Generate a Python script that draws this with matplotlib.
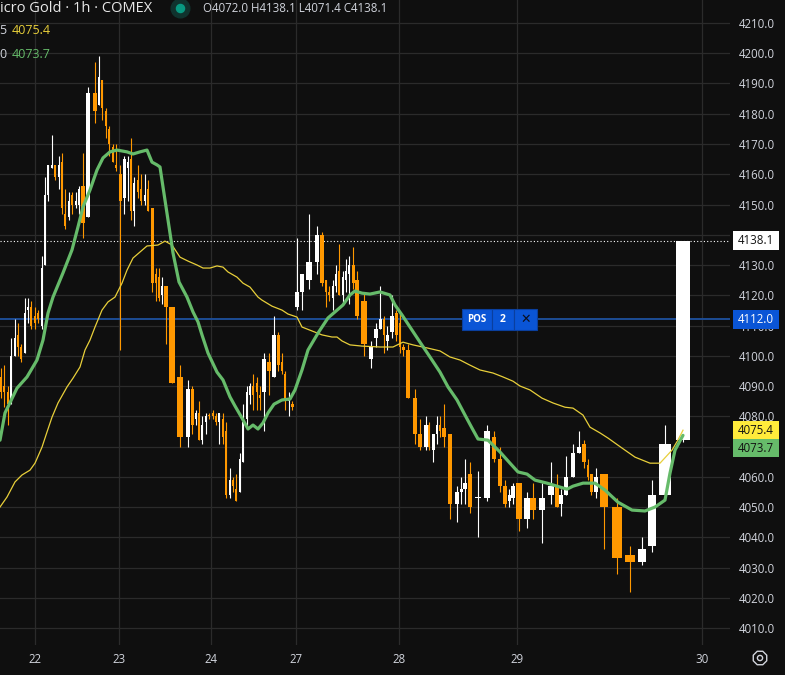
import numpy as np
import matplotlib.pyplot as plt
from matplotlib.patches import Rectangle

plt.rcParams['font.family'] = ['Open Sans', 'DejaVu Sans']

# hourly bars, position along the (compressed) time axis
bar_t = [1, 4, 8, 11, 15, 18, 21, 25, 28, 31,
         35, 38, 42, 45, 48, 52, 55, 59, 62, 65,
         69, 72, 76, 79, 83, 88, 95, 99, 102, 106,
         109, 113, 116, 120, 124, 128, 131, 134, 138, 141,
         145, 148, 152, 156, 159, 162, 166, 172, 180, 188,
         192, 196, 199, 202, 206, 209, 213, 216, 219, 223,
         226, 230, 233, 236, 240, 243, 247, 250, 253, 257,
         260, 264, 269, 274, 278, 282, 285, 289, 292, 297,
         302, 309, 317, 322, 326, 329, 333, 336, 339, 343,
         346, 349, 353, 357, 364, 371, 376, 380, 384, 387,
         392, 396, 400, 403, 408, 415, 420, 426, 429, 433,
         437, 440, 444, 450, 457, 461, 465, 470, 478, 487,
         494, 500, 505, 509, 513, 519, 527, 533, 542, 551,
         557, 561, 566, 573, 579, 584, 588, 591, 596, 604,
         617, 630, 642, 652, 665, 683]

bar_open = [4093, 4090, 4088, 4085, 4100, 4107, 4103, 4101, 4115, 4116,
            4113, 4114, 4110, 4130, 4153, 4162, 4163, 4159, 4164, 4147,
            4146, 4153, 4150, 4150, 4156, 4146, 4187, 4183, 4191, 4181,
            4175, 4169, 4163, 4160, 4152, 4162, 4165, 4148, 4158, 4155,
            4151, 4155, 4149, 4127, 4126, 4120, 4123, 4116, 4093, 4073,
            4089, 4079, 4081, 4072, 4078, 4080.5, 4081, 4080, 4078, 4079,
            4075, 4054, 4059, 4056, 4055, 4065, 4079, 4087, 4090, 4091,
            4087, 4088, 4098, 4093, 4107, 4098, 4094, 4085, 4084, 4116,
            4121, 4125, 4131, 4140, 4125, 4121, 4119, 4123, 4128, 4120,
            4125, 4127, 4130, 4125, 4118, 4099, 4106, 4109, 4112, 4105,
            4108, 4114, 4111, 4103, 4102, 4086, 4074, 4070, 4077, 4069,
            4074, 4077, 4076, 4074, 4051, 4055, 4056, 4061, 4053, 4053,
            4073, 4066, 4057, 4052, 4053, 4058, 4046, 4053, 4049, 4054,
            4057, 4051, 4054, 4060, 4068, 4071, 4064, 4061, 4055, 4061,
            4050, 4034, 4032, 4037, 4054, 4072.0]

bar_high = [4096, 4097, 4090, 4106, 4112, 4111, 4104, 4119, 4119, 4118,
            4116, 4115, 4133, 4159, 4163, 4173, 4163, 4166, 4167, 4155,
            4154, 4154, 4154, 4156, 4167, 4189, 4197, 4199, 4191, 4182,
            4176, 4170, 4170, 4163, 4166, 4166, 4172, 4159, 4163, 4160,
            4160, 4158, 4149, 4129, 4129, 4126, 4123, 4116, 4097, 4092,
            4090, 4082, 4085, 4080, 4081, 4081, 4082, 4081, 4081, 4081,
            4078, 4063, 4060, 4061, 4068, 4084, 4090, 4091, 4094, 4093,
            4090, 4101, 4101, 4113, 4108, 4101, 4095, 4088, 4085, 4139,
            4127, 4147, 4143, 4141, 4125, 4123, 4125, 4130, 4137, 4128,
            4132, 4133, 4136, 4128, 4121, 4105, 4111, 4123, 4113, 4110,
            4120, 4115, 4114, 4104, 4104, 4089, 4079, 4080, 4078, 4074,
            4080, 4080, 4084, 4074, 4057, 4060, 4066, 4065, 4062, 4077,
            4075, 4070, 4059, 4056, 4058, 4058, 4055, 4058, 4058, 4065,
            4061, 4056, 4067, 4071, 4075, 4072, 4066, 4061, 4063, 4061,
            4053, 4037, 4040, 4059, 4077, 4138.1]

bar_low = [4086, 4083, 4077, 4084, 4100, 4100, 4098, 4101, 4111, 4109,
           4109, 4111, 4109, 4130, 4151, 4162, 4158, 4155, 4147, 4142,
           4145, 4147, 4149, 4147, 4139, 4146, 4177, 4183, 4178, 4172,
           4166, 4164, 4161, 4102, 4147, 4151, 4145, 4143, 4152, 4150,
           4150, 4148, 4121, 4118, 4118, 4117, 4104, 4091, 4070, 4070,
           4074, 4077, 4072, 4071, 4074, 4079, 4079, 4077, 4071, 4071,
           4053, 4053, 4055, 4052, 4055, 4065, 4076, 4084, 4082, 4082,
           4082, 4075, 4087, 4093, 4095, 4094, 4082, 4080, 4082, 4115,
           4115, 4122, 4127, 4123, 4116, 4118, 4115, 4121, 4120, 4117,
           4121, 4117, 4122, 4112, 4100, 4096, 4103, 4109, 4101, 4102,
           4106, 4105, 4101, 4100, 4086, 4071, 4069, 4069, 4069, 4065,
           4071, 4073, 4070, 4046, 4045, 4051, 4051, 4048, 4040, 4052,
           4065, 4055, 4050, 4050, 4051, 4042, 4043, 4046, 4038, 4051,
           4050, 4047, 4054, 4060, 4068, 4063, 4059, 4054, 4053, 4036,
           4028, 4022, 4031, 4035, 4054, 4071.4]

bar_close = [4088, 4088, 4084, 4100, 4106, 4103, 4099, 4114, 4116, 4110,
             4111, 4112, 4129, 4153, 4163, 4163, 4159, 4163, 4149, 4143,
             4151, 4150, 4151, 4155, 4144, 4187, 4181, 4192, 4182, 4176,
             4170, 4164, 4162, 4151, 4165, 4164, 4148, 4157, 4154, 4151,
             4153, 4148, 4124, 4124, 4119, 4123, 4116, 4091, 4073, 4089,
             4077, 4081, 4072, 4077, 4080, 4080, 4080, 4078, 4081, 4073,
             4054, 4059, 4057, 4052, 4066, 4078, 4088, 4090, 4087, 4088,
             4086, 4099, 4095, 4107, 4097, 4095, 4085, 4085.5, 4083, 4121,
             4127, 4131, 4140, 4124, 4121, 4120, 4123, 4127, 4120, 4126,
             4128, 4130, 4124, 4113, 4104, 4103, 4109, 4112, 4107, 4107,
             4113, 4107, 4103, 4102, 4086, 4074, 4070, 4077, 4070, 4074,
             4077, 4075, 4073, 4051, 4055, 4056, 4058, 4050, 4053.3, 4075,
             4066, 4057, 4051, 4054, 4057, 4046, 4053, 4049, 4053, 4057,
             4050, 4054, 4060, 4068, 4070, 4065, 4060, 4055, 4060, 4050,
             4033, 4032, 4036, 4054, 4071, 4138.1]

# fast moving average (green)
ema_fast_t = [0, 5, 17, 27, 37, 43, 48, 53, 63, 72,
              78, 83, 90, 97, 103, 110, 117, 127, 133, 140,
              147, 152, 157, 160, 163, 168, 173, 179, 187, 193,
              198, 202, 208, 217, 223, 230, 235, 242, 248, 253,
              258, 263, 268, 274, 282, 290, 295, 302, 308, 318,
              328, 335, 343, 350, 355, 362, 370, 380, 390, 395,
              402, 410, 420, 430, 440, 448, 457, 465, 472, 478,
              488, 500, 510, 518, 527, 535, 547, 560, 567, 573,
              583, 595, 605, 618, 632, 645, 655, 665, 670, 675, 683]
ema_fast = [4072.1, 4081.1, 4089.3, 4093.0, 4098.6, 4105.2, 4114.1, 4119.4, 4127.4, 4135.0,
            4142.6, 4149.2, 4154.8, 4161.4, 4165.4, 4167.4, 4168.0, 4167.4, 4166.7, 4167.4,
            4168.0, 4164.0, 4163.1, 4162.4, 4155.8, 4144.9, 4134.0, 4124.4, 4119.4, 4114.5,
            4111.2, 4106.9, 4100.9, 4094.6, 4092.0, 4086.4, 4083.4, 4079.4, 4075.8, 4077.1,
            4075.8, 4077.8, 4081.1, 4084.0, 4085.4, 4085.7, 4088.7, 4095.3, 4101.9, 4107.5,
            4112.5, 4114.5, 4116.8, 4120.1, 4121.4, 4120.7, 4120.4, 4121.1, 4120.1, 4116.8,
            4113.5, 4109.5, 4104.5, 4099.6, 4094.6, 4089.7, 4085.4, 4080.4, 4076.1, 4072.5,
            4072.1, 4068.2, 4064.5, 4061.6, 4060.9, 4058.9, 4057.9, 4056.6, 4055.9, 4056.9,
            4057.9, 4057.9, 4055.6, 4051.6, 4049.0, 4048.7, 4050.0, 4052.3, 4061.2, 4068.8, 4073.7]

# slow moving average (yellow)
ema_slow_t = [0, 7, 15, 22, 30, 35, 42, 47, 52, 58,
              67, 73, 80, 85, 90, 95, 102, 108, 115, 122,
              127, 133, 140, 147, 158, 165, 172, 180, 188, 197,
              203, 210, 217, 223, 228, 237, 243, 250, 258, 262,
              272, 282, 288, 297, 302, 312, 322, 332, 337, 342,
              350, 362, 380, 393, 403, 413, 427, 440, 450, 460,
              470, 480, 493, 503, 513, 520, 530, 542, 553, 565,
              573, 583, 590, 600, 608, 622, 635, 650, 660, 672, 678, 683]
ema_slow = [4050.0, 4053.3, 4058.3, 4060.6, 4062.2, 4064.5, 4069.8, 4074.8, 4079.7, 4084.4,
            4089.7, 4092.6, 4096.3, 4101.9, 4105.2, 4109.5, 4115.1, 4117.8, 4119.4, 4124.0,
            4128.3, 4132.3, 4134.3, 4136.3, 4136.6, 4137.9, 4136.6, 4132.6, 4131.3, 4130.0,
            4129.0, 4129.0, 4129.7, 4129.3, 4127.7, 4126.0, 4124.0, 4122.7, 4119.4, 4118.4,
            4116.4, 4115.1, 4113.8, 4112.8, 4109.5, 4108.2, 4106.9, 4106.2, 4106.2, 4104.9,
            4103.6, 4103.2, 4102.9, 4102.9, 4104.5, 4103.6, 4102.6, 4101.6, 4099.6, 4098.6,
            4096.9, 4095.3, 4094.3, 4093.0, 4091.6, 4090.0, 4088.7, 4086.0, 4084.4, 4083.0,
            4082.7, 4080.4, 4076.4, 4074.5, 4072.8, 4069.5, 4066.5, 4064.5, 4064.5, 4068.8,
            4072.2, 4075.4]

day_pos = [35, 119, 211, 296, 399, 517, 702]
day_labels = ['22', '23', '24', '27', '28', '29', '30']
price_ticks = np.arange(4010, 4211, 10)
position_price = 4112.0
position_qty = 2

BG = '#0f0f0f'
GRID = '#2b2b2b'
TXT = '#d1d4dc'
UP = '#ffffff'
DOWN = '#ff9800'
GREEN = '#66bb6a'
YELLOW = '#e8cf3a'
BLUE = '#0a55d6'

fig = plt.figure(figsize=(7.85, 6.75), dpi=100, facecolor=BG)
ax = fig.add_axes([0, 30 / 675, 730 / 785, 645 / 675])
ax.set_facecolor(BG)
ax.set_xlim(0, 730)
ax.set_ylim(4004.4, 4217.6)
for s in ax.spines.values():
    s.set_visible(False)

ax.set_yticks(price_ticks)
ax.set_yticklabels([f"{v:.1f}" for v in price_ticks])
ax.yaxis.tick_right()
ax.set_xticks(day_pos)
ax.set_xticklabels(day_labels)
ax.tick_params(axis='both', length=0, colors=TXT, labelsize=8.3)
ax.tick_params(axis='y', pad=6)
ax.tick_params(axis='x', pad=6)
ax.grid(color=GRID, lw=0.9)
ax.set_axisbelow(True)

# candles
t = np.array(bar_t, dtype=float)
o = np.array(bar_open)
h = np.array(bar_high)
lo = np.array(bar_low)
c = np.array(bar_close)
gaps = np.diff(t)
width = 0.75 * (np.r_[gaps[0], gaps] + np.r_[gaps, gaps[-1]]) / 2
cols = np.where(c >= o, UP, DOWN)
ax.vlines(t, lo, h, colors=cols, lw=0.8, zorder=3)
body = np.maximum(np.abs(c - o), 0.35)
ax.bar(t, body, width=width, bottom=np.minimum(o, c), color=cols, zorder=4)

# moving averages
ax.plot(ema_slow_t, ema_slow, color=YELLOW, lw=0.9, zorder=5)
ax.plot(ema_fast_t, ema_fast, color=GREEN, lw=2.3, zorder=5, solid_capstyle='round')

# last price + position lines
ax.axhline(c[-1], color='white', lw=0.8, ls=(0, (1, 2)), zorder=2)
ax.axhline(position_price, color='#1d4c94', lw=1.4, zorder=2)

# POS marker on the position line
ph = 3.4
ax.add_patch(Rectangle((462, position_price - ph), 30, 2 * ph, fc=BLUE, ec='#0a3f9e', lw=0.8, zorder=7))
ax.add_patch(Rectangle((492, position_price - ph), 22, 2 * ph, fc=BLUE, ec='#0a3f9e', lw=0.8, zorder=7))
ax.add_patch(Rectangle((514, position_price - ph), 23, 2 * ph, fc=BLUE, ec='#0a3f9e', lw=0.8, zorder=7))
ax.text(477, position_price, 'POS', color='white', fontsize=7, fontweight='bold', ha='center', va='center', zorder=8)
ax.text(503, position_price, str(position_qty), color='white', fontsize=7.5, fontweight='bold', ha='center', va='center', zorder=8)
ax.text(525.5, position_price, '✕', color='#0b1020', fontsize=9, ha='center', va='center', zorder=8,
        family='DejaVu Sans')

# price tags on the right scale
ytr = ax.get_yaxis_transform()


def price_tag(center, value, face, fg):
    ax.add_patch(Rectangle((1.004, center - 3.0), 0.063, 6.0, transform=ytr, fc=face, ec='none',
                           clip_on=False, zorder=9))
    ax.text(1.035, center, f"{value:.1f}", transform=ytr, color=fg, fontsize=8.3, ha='center',
            va='center', clip_on=False, zorder=10)


price_tag(c[-1], c[-1], 'white', '#131313')
price_tag(position_price, position_price, BLUE, 'white')
price_tag(ema_slow[-1], ema_slow[-1], '#ffeb3b', '#131313')
price_tag(min(ema_fast[-1], ema_slow[-1] - 6.0), ema_fast[-1], GREEN, '#131313')

# header / overlay in pixel space
ov = fig.add_axes([0, 0, 1, 1], zorder=10)
ov.set_xlim(0, 785)
ov.set_ylim(675, 0)
ov.axis('off')
ov.text(0, 9, 'icro Gold · 1h · COMEX', color='#e8e8e8', fontsize=10.5, ha='left', va='center')
ov.scatter([180], [8], s=180, color='#10332e', zorder=2)
ov.scatter([180], [8], s=34, color='#089981', zorder=3)
ov.text(203, 9, f"O{o[-1]:.1f}  H{h[-1]:.1f}  L{lo[-1]:.1f}  C{c[-1]:.1f}".replace('  ', ' '),
        color=TXT, fontsize=8.3, ha='left', va='center')
ov.text(-1, 31, '5', color=TXT, fontsize=9, ha='left', va='center')
ov.text(12, 31, f"{ema_slow[-1]:.1f}", color=YELLOW, fontsize=9, ha='left', va='center')
ov.text(-1, 55, '0', color=TXT, fontsize=9, ha='left', va='center')
ov.text(12, 55, f"{ema_fast[-1]:.1f}", color=GREEN, fontsize=9, ha='left', va='center')

# settings icon bottom right
ov.scatter([760], [658], s=110, marker='8', facecolor='none', edgecolor=TXT, lw=1.0)
ov.scatter([760], [658], s=14, marker='o', facecolor='none', edgecolor=TXT, lw=1.0)

fig.savefig('out.png', dpi=100, facecolor=BG)
